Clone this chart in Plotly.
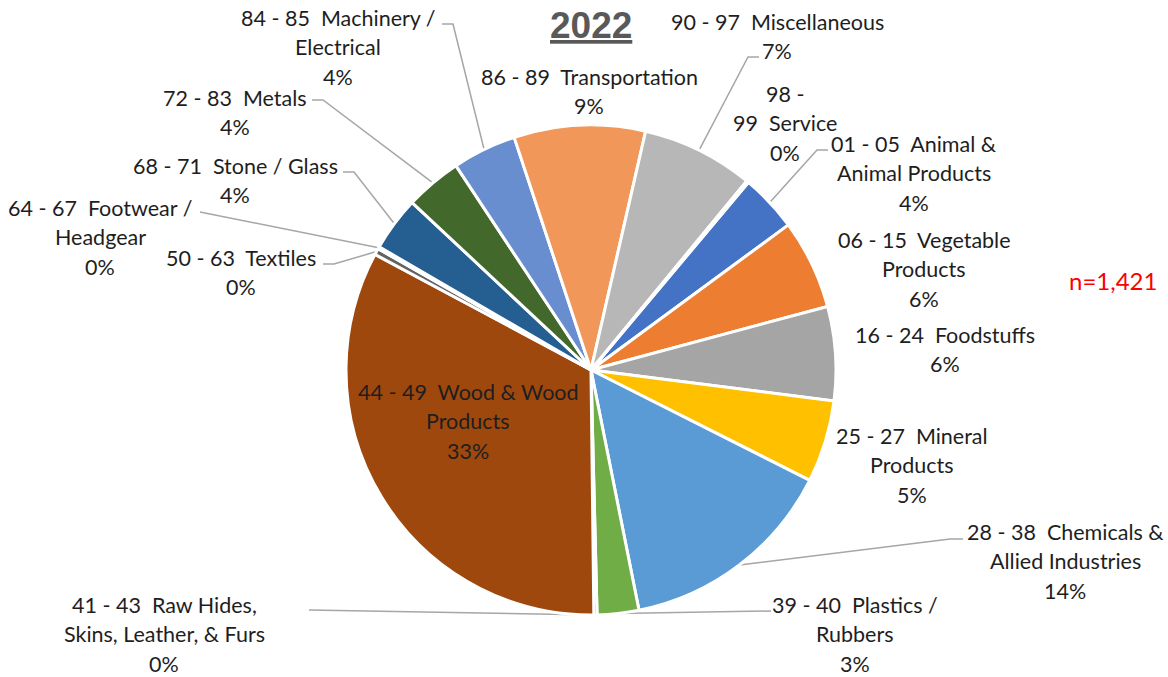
import numpy as np
import plotly.graph_objects as go

W, H = 1168, 677

codes = ["01 - 05", "06 - 15", "16 - 24", "25 - 27", "28 - 38", "39 - 40", "41 - 43", "44 - 49",
         "50 - 63", "64 - 67", "68 - 71", "72 - 83", "84 - 85", "86 - 89", "90 - 97", "98 - 99"]
names = ["Animal & Animal Products", "Vegetable Products", "Foodstuffs", "Mineral Products",
         "Chemicals & Allied Industries", "Plastics / Rubbers", "Raw Hides, Skins, Leather, & Furs",
         "Wood & Wood Products", "Textiles", "Footwear / Headgear", "Stone / Glass", "Metals",
         "Machinery / Electrical", "Transportation", "Miscellaneous", "Service"]
counts = [54, 84, 88, 77, 205, 39, 3, 469, 6, 2, 51, 53, 60, 123, 105, 2]
total = sum(counts)  # 1,421

colors = ["#4472C4", "#ED7D31", "#A5A5A5", "#FFC000", "#5B9BD5", "#70AD47", "#264478", "#9E480E",
          "#636363", "#997300", "#255E91", "#43682B", "#698ED0", "#F1975A", "#B7B7B7", "#FFCD33"]

# label text wrapped the way Excel wrapped it
label_lines = [
    ["01 - 05  Animal &", "Animal Products"],
    ["06 - 15  Vegetable", "Products"],
    ["16 - 24  Foodstuffs"],
    ["25 - 27  Mineral", "Products"],
    ["28 - 38  Chemicals &", "Allied Industries"],
    ["39 - 40  Plastics /", "Rubbers"],
    ["41 - 43  Raw Hides,", "Skins, Leather, & Furs"],
    ["44 - 49  Wood & Wood", "Products"],
    ["50 - 63  Textiles"],
    ["64 - 67  Footwear /", "Headgear"],
    ["68 - 71  Stone / Glass"],
    ["72 - 83  Metals"],
    ["84 - 85  Machinery /", "Electrical"],
    ["86 - 89  Transportation"],
    ["90 - 97  Miscellaneous"],
    ["98 -", "99  Service"],
]

# layout: label centre (x, y of first line) in pixels
label_pos = [(914, 144), (924, 240), (945, 335), (912, 436), (1065, 532), (855, 605),
             (164, 605), (468, 392), (241, 258), (100, 208), (235, 166), (235, 98),
             (338, 18), (589, 77), (777, 22), (785, 94)]
# leader line points on the text side (the pie end is computed from the slice angle)
leaders = {
    0: [(828, 150), (817, 150)],
    4: [(963, 539), (950, 539)],
    5: [(771, 611)],
    6: [(309, 610)],
    8: [(323, 264), (334, 264)],
    9: [(200, 212)],
    10: [(343, 172), (354, 172)],
    11: [(312, 100), (323, 100)],
    12: [(442, 24), (453, 24)],
    14: [(759, 57), (748, 57)],
}

CX, CY, R = 591, 370, 245
ROT = 40
LINE_H = 29.3
FONT = "Lato"
TXT = "#1e1e1e"

fig = go.Figure()

fig.add_trace(go.Pie(
    labels=[f"{c}  {n}" for c, n in zip(codes, names)],
    values=counts,
    sort=False,
    direction="clockwise",
    rotation=ROT,
    marker=dict(colors=colors, line=dict(color="white", width=3)),
    textinfo="none",
    hoverinfo="label+percent",
    showlegend=False,
    domain=dict(x=[(CX - R) / W, (CX + R) / W], y=[1 - (CY + R) / H, 1 - (CY - R) / H]),
))

# slice mid angles (clockwise from 12 o'clock) -> edge points for the leader lines
vals = np.array(counts, dtype=float)
start = ROT + 360 * (np.cumsum(vals) - vals) / total
mid = np.radians(start + 180 * vals / total)
edge_x = CX + R * np.sin(mid)
edge_y = CY - R * np.cos(mid)

lx, ly = [], []
for i, pts in leaders.items():
    for px, py in pts:
        lx.append(px)
        ly.append(py)
    lx += [edge_x[i], None]
    ly += [edge_y[i], None]
fig.add_trace(go.Scatter(x=lx, y=ly, mode="lines", line=dict(color="#A6A6A6", width=1.5),
                         hoverinfo="skip", showlegend=False))

annotations = []
for i, lines in enumerate(label_lines):
    pct = f"{round(100 * counts[i] / total)}%"
    x0, y0 = label_pos[i]
    for k, t in enumerate(lines + [pct]):
        annotations.append(dict(
            x=x0, y=y0 + k * LINE_H, xref="x", yref="y", showarrow=False,
            text=t.replace("  ", " \u00a0"), xanchor="center", yanchor="middle",
            font=dict(family=FONT, size=21.5, color=TXT),
        ))

annotations.append(dict(x=591, y=25, xref="x", yref="y", showarrow=False, text="<b><u>2022</u></b>",
                        xanchor="center", yanchor="middle",
                        font=dict(family="Liberation Sans, Arial", size=37, color="#595959")))
annotations.append(dict(x=1113, y=280, xref="x", yref="y", showarrow=False, text=f"n={total:,}",
                        xanchor="center", yanchor="middle",
                        font=dict(family=FONT, size=24, color="#FF0000")))

fig.update_layout(
    width=W, height=H,
    margin=dict(l=0, r=0, t=0, b=0),
    paper_bgcolor="white", plot_bgcolor="rgba(0,0,0,0)",
    xaxis=dict(range=[0, W], visible=False, fixedrange=True, domain=[0, 1]),
    yaxis=dict(range=[H, 0], visible=False, fixedrange=True, domain=[0, 1]),
    annotations=annotations,
)

fig.write_html("out.html", config={"displayModeBar": False},
               post_script="document.body.style.margin = '0';")
